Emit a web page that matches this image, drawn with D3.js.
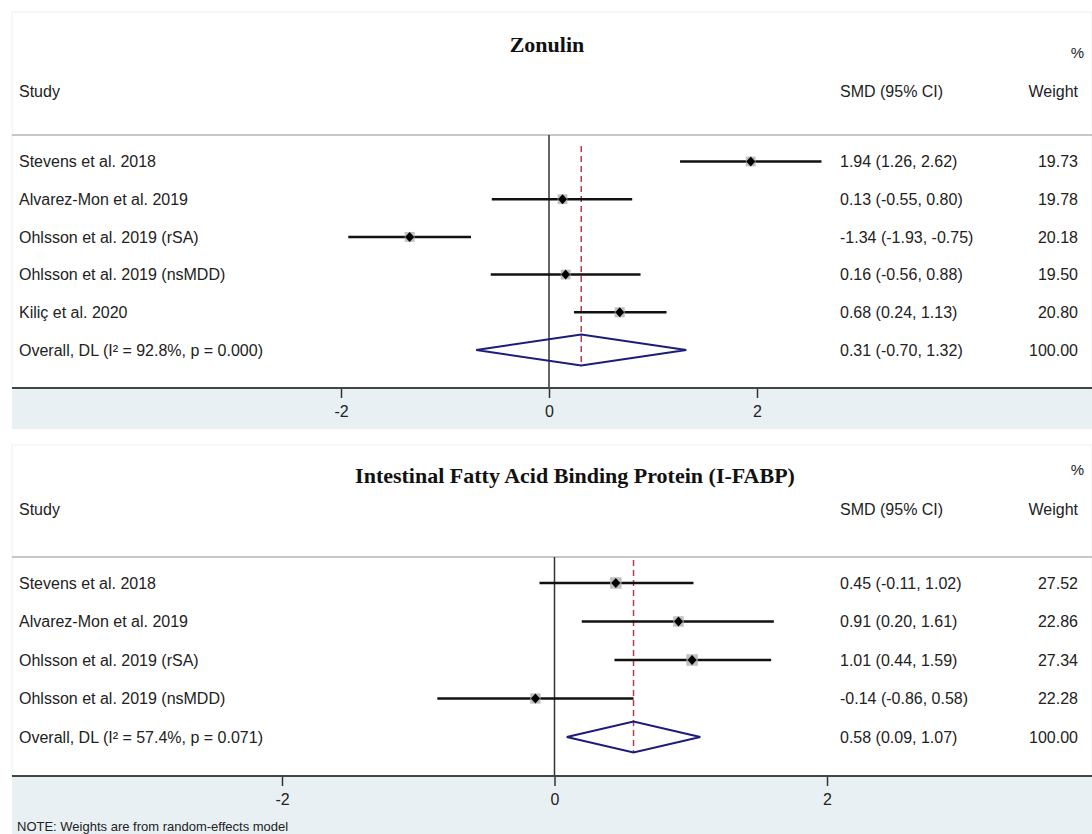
<!DOCTYPE html>
<html>
<head>
<meta charset="utf-8">
<script src="https://cdn.jsdelivr.net/npm/d3@7"></script>
<style>
  body { margin: 0; background: #fff; }
  svg { display: block; }
</style>
</head>
<body>
<div id="chart"></div>
<script>
// Zonulin panel
var zonStudies = ["Stevens et al. 2018", "Alvarez-Mon et al. 2019", "Ohlsson et al. 2019 (rSA)",
  "Ohlsson et al. 2019 (nsMDD)", "Kiliç et al. 2020"];
var zonSmd = [1.94, 0.13, -1.34, 0.16, 0.68];
var zonLow = [1.26, -0.55, -1.93, -0.56, 0.24];
var zonHigh = [2.62, 0.80, -0.75, 0.88, 1.13];
var zonWeight = [19.73, 19.78, 20.18, 19.50, 20.80];
var zonOverall = [0.31, -0.70, 1.32];
var zonOverallLabel = "Overall, DL (I\u00b2 = 92.8%, p = 0.000)";

// I-FABP panel
var fabpStudies = ["Stevens et al. 2018", "Alvarez-Mon et al. 2019", "Ohlsson et al. 2019 (rSA)",
  "Ohlsson et al. 2019 (nsMDD)"];
var fabpSmd = [0.45, 0.91, 1.01, -0.14];
var fabpLow = [-0.11, 0.20, 0.44, -0.86];
var fabpHigh = [1.02, 1.61, 1.59, 0.58];
var fabpWeight = [27.52, 22.86, 27.34, 22.28];
var fabpOverall = [0.58, 0.09, 1.07];
var fabpOverallLabel = "Overall, DL (I\u00b2 = 57.4%, p = 0.071)";

var axisTicks = [-2, 0, 2];

var W = 1092, H = 834;
// stata prints a plain hyphen for negatives
var fmt = function(v) { return v.toFixed(2); };

var svg = d3.select("#chart").append("svg")
  .attr("width", W)
  .attr("height", H);

var sizeScale = d3.scaleSqrt().domain([0, 100]).range([0, 22]);

function drawPanel(opt) {
  var g = svg.append("g");
  var n = opt.studies.length;

  var x = d3.scaleLinear().domain([-2, 2]).range([opt.xLeft, opt.xRight]);
  var y = d3.scaleLinear().domain([0, n]).range([opt.rowTop, opt.rowBottom]);

  // panel background + band under the axis
  g.append("rect")
    .attr("x", 12).attr("y", opt.panelTop)
    .attr("width", W - 12).attr("height", opt.axisY - opt.panelTop)
    .attr("fill", "#fff").attr("stroke", "#f0f0f0");
  g.append("rect")
    .attr("x", 12).attr("y", opt.axisY)
    .attr("width", W - 12).attr("height", opt.bandBottom - opt.axisY)
    .attr("fill", "#e9f0f3");

  // titles and headers
  g.append("text")
    .attr("x", opt.titleX).attr("y", opt.titleY)
    .attr("text-anchor", "middle")
    .style("font", "bold 22px 'Liberation Serif', 'Times New Roman', serif")
    .attr("fill", "#111")
    .text(opt.title);
  g.append("text")
    .attr("x", 1084).attr("y", opt.pctY)
    .attr("text-anchor", "end")
    .style("font", "15px 'Liberation Sans', Arial, sans-serif")
    .attr("fill", "#222")
    .text("%");

  var head = g.append("g")
    .style("font", "16px 'Liberation Sans', Arial, sans-serif")
    .attr("fill", "#222");
  head.append("text").attr("x", 19).attr("y", opt.headY).text("Study");
  head.append("text").attr("x", 840).attr("y", opt.headY).text("SMD (95% CI)");
  head.append("text").attr("x", 1078).attr("y", opt.headY).attr("text-anchor", "end").text("Weight");

  g.append("line")
    .attr("x1", 12).attr("x2", W)
    .attr("y1", opt.lineY).attr("y2", opt.lineY)
    .attr("stroke", "#b5b5b5").attr("stroke-width", 1.5);

  // null line
  g.append("line")
    .attr("x1", x(0)).attr("x2", x(0))
    .attr("y1", opt.lineY).attr("y2", opt.axisY)
    .attr("stroke", "#333").attr("stroke-width", 1.5);

  // overall effect line
  g.append("line")
    .attr("x1", x(opt.overall[0])).attr("x2", x(opt.overall[0]))
    .attr("y1", opt.dashTop).attr("y2", y(n) + 15.5)
    .attr("stroke", "#bb3a4a").attr("stroke-width", 1.5)
    .attr("stroke-dasharray", "6,4");

  var rows = d3.range(n);

  // CI lines
  g.selectAll(".ci")
    .data(rows).enter().append("line")
    .attr("class", "ci")
    .attr("x1", function(i) { return x(opt.low[i]); })
    .attr("x2", function(i) { return x(opt.high[i]); })
    .attr("y1", function(i) { return y(i); })
    .attr("y2", function(i) { return y(i); })
    .attr("stroke", "#111").attr("stroke-width", 2.5);

  // weight boxes
  g.selectAll(".box")
    .data(rows).enter().append("rect")
    .attr("class", "box")
    .attr("x", function(i) { return x(opt.smd[i]) - sizeScale(opt.weight[i]) / 2; })
    .attr("y", function(i) { return y(i) - sizeScale(opt.weight[i]) / 2; })
    .attr("width", function(i) { return sizeScale(opt.weight[i]); })
    .attr("height", function(i) { return sizeScale(opt.weight[i]); })
    .attr("fill", "#b0b0b0").attr("opacity", 0.8);

  // point markers
  g.selectAll(".pt")
    .data(rows).enter().append("path")
    .attr("class", "pt")
    .attr("transform", function(i) { return "translate(" + x(opt.smd[i]) + "," + y(i) + ")"; })
    .attr("d", "M0,-5L4.5,0L0,5L-4.5,0Z")
    .attr("fill", "#000");

  // overall diamond
  var oy = y(n);
  g.append("path")
    .attr("d", "M" + x(opt.overall[1]) + "," + oy +
      "L" + x(opt.overall[0]) + "," + (oy - 15.5) +
      "L" + x(opt.overall[2]) + "," + oy +
      "L" + x(opt.overall[0]) + "," + (oy + 15.5) + "Z")
    .attr("fill", "none")
    .attr("stroke", "#1c1c7a").attr("stroke-width", 2);

  // row text
  var labels = opt.studies.concat([opt.overallLabel]);
  var smdText = rows.map(function(i) {
    return fmt(opt.smd[i]) + " (" + fmt(opt.low[i]) + ", " + fmt(opt.high[i]) + ")";
  }).concat([fmt(opt.overall[0]) + " (" + fmt(opt.overall[1]) + ", " + fmt(opt.overall[2]) + ")"]);
  var wText = opt.weight.map(fmt).concat(["100.00"]);

  var txt = g.append("g")
    .style("font", "16px 'Liberation Sans', Arial, sans-serif")
    .attr("fill", "#222");
  txt.selectAll(".lab").data(labels).enter().append("text")
    .attr("x", 19).attr("y", function(d, i) { return y(i); }).attr("dy", "0.35em")
    .text(function(d) { return d; });
  txt.selectAll(".smd").data(smdText).enter().append("text")
    .attr("x", 840).attr("y", function(d, i) { return y(i); }).attr("dy", "0.35em")
    .text(function(d) { return d; });
  txt.selectAll(".wt").data(wText).enter().append("text")
    .attr("x", 1078).attr("y", function(d, i) { return y(i); }).attr("dy", "0.35em")
    .attr("text-anchor", "end")
    .text(function(d) { return d; });

  // axis
  var axis = g.append("g")
    .attr("transform", "translate(0," + opt.axisY + ")")
    .call(d3.axisBottom(x).tickValues(axisTicks).tickSize(10).tickPadding(8)
      .tickFormat(function(d) { return String(d); }));
  axis.select(".domain").remove();
  axis.selectAll(".tick line").attr("stroke", "#333").attr("stroke-width", 1.5);
  axis.selectAll(".tick text")
    .style("font", "16px 'Liberation Sans', Arial, sans-serif")
    .attr("fill", "#222");
  g.append("line")
    .attr("x1", 12).attr("x2", W)
    .attr("y1", opt.axisY).attr("y2", opt.axisY)
    .attr("stroke", "#444").attr("stroke-width", 2);
}

drawPanel({
  title: "Zonulin", studies: zonStudies, smd: zonSmd, low: zonLow, high: zonHigh,
  weight: zonWeight, overall: zonOverall, overallLabel: zonOverallLabel,
  panelTop: 12, titleX: 547, titleY: 52, pctY: 58, headY: 97, lineY: 135,
  rowTop: 161.5, rowBottom: 350, dashTop: 146, axisY: 388, bandBottom: 429,
  xLeft: 341, xRight: 757
});

drawPanel({
  title: "Intestinal Fatty Acid Binding Protein (I-FABP)", studies: fabpStudies, smd: fabpSmd,
  low: fabpLow, high: fabpHigh, weight: fabpWeight, overall: fabpOverall, overallLabel: fabpOverallLabel,
  panelTop: 445, titleX: 575, titleY: 483, pctY: 475, headY: 515, lineY: 557,
  rowTop: 583, rowBottom: 737, dashTop: 560, axisY: 776, bandBottom: 834,
  xLeft: 282, xRight: 827
});

svg.append("text")
  .attr("x", 17).attr("y", 831)
  .style("font", "13px 'Liberation Sans', Arial, sans-serif")
  .attr("fill", "#222")
  .text("NOTE: Weights are from random-effects model");
</script>
</body>
</html>
